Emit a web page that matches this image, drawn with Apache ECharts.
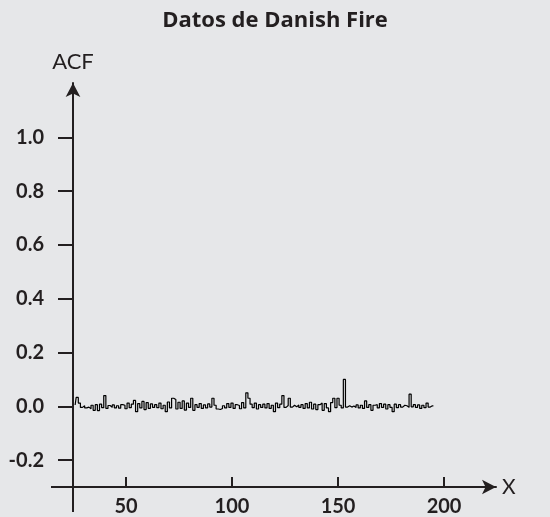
<!DOCTYPE html>
<html>
<head>
<meta charset="utf-8">
<script src="https://cdn.jsdelivr.net/npm/echarts@6/dist/echarts.min.js"></script>
<style>html,body{margin:0;padding:0;background:#e6e7e9;}#c{width:550px;height:517px;}</style>
</head>
<body>
<div id="c"></div>
<script>
var title = 'Datos de Danish Fire';
var firstLag = 26;
var acf = [
  0.005, 0.033, 0.012, -0.004, 0.002, -0.006, -0.003, -0.009, 0.004, -0.015,
  0.006, -0.016, 0.008, -0.005, 0.04, -0.008, 0.003, -0.004, 0.005, -0.006,
  0.002, -0.007, 0.006, 0.004, -0.009, 0.012, -0.005, 0.008, 0.022, -0.02,
  0.01, -0.006, 0.018, -0.012, 0.014, -0.008, 0.009, -0.004, 0.006, -0.005,
  0.012, -0.009, 0.004, -0.02, 0.016, -0.006, 0.03, 0.025, -0.01, 0.015,
  -0.008, 0.02, -0.014, 0.012, -0.004, 0.03, -0.015, 0.006, -0.004, 0.01,
  -0.008, 0.005, -0.006, 0.009, -0.003, 0.03, 0.004, -0.01, -0.012, -0.008,
  0.002, -0.006, 0.01, -0.004, 0.012, -0.008, 0.006, 0.003, -0.009, 0.014,
  -0.006, 0.05, 0.03, 0.008, -0.005, 0.012, -0.01, 0.006, -0.004, 0.008,
  -0.006, 0.01, -0.008, 0.004, -0.02, 0.012, -0.005, 0.008, 0.04, -0.004,
  0.003, 0.03, -0.003, 0.004, -0.002, 0.005, -0.004, 0.006, -0.008, 0.01,
  -0.006, 0.015, -0.01, 0.008, -0.012, 0.006, 0.012, -0.015, 0.01, -0.006,
  -0.02, 0.014, 0.03, -0.005, 0.03, 0.004, -0.006, 0.1, -0.003, 0.002,
  -0.003, 0.001, -0.004, 0.005, -0.006, 0.004, -0.008, 0.02, -0.004, 0.006,
  -0.015, 0.004, 0.006, -0.006, 0.01, -0.004, 0.008, -0.01, 0.006, -0.004,
  -0.02, 0.008, -0.005, 0.006, -0.003, 0.004, 0.002, -0.004, 0.045, -0.002,
  0.006, -0.004, 0.005, -0.008, 0.004, -0.005, 0.012, -0.003, 0.002, 0.001
];
var xTicks = [50, 100, 150, 200];
var yTicks = [-0.2, 0.0, 0.2, 0.4, 0.6, 0.8, 1.0];

var seriesData = acf.map(function (v, i) { return [firstLag + i, v]; });
var ink = '#231f20';
var chart = echarts.init(document.getElementById('c'), null, {renderer: 'canvas'});
chart.setOption({
  backgroundColor: '#e6e7e9',
  animation: false,
  title: {
    text: title, left: 'center', top: 5,
    textStyle: {fontFamily: 'Open Sans', fontWeight: 'bold', fontSize: 22, color: ink}
  },
  grid: {left: 73, right: 54, top: 83, bottom: 28},
  xAxis: {
    type: 'value', min: 25, max: 224.5,
    name: 'X', nameLocation: 'end', nameGap: 6,
    nameTextStyle: {fontFamily: 'Lato', fontSize: 21, color: ink, verticalAlign: 'middle'},
    axisLine: {show: true, onZero: false, symbol: ['none', 'arrow'], symbolSize: [11, 14], lineStyle: {color: ink, width: 2}},
    axisTick: {show: true, inside: true, length: 10, lineStyle: {color: ink, width: 2}, customValues: xTicks},
    axisLabel: {show: true, margin: 10, fontFamily: 'Lato', fontWeight: 'bold', fontSize: 20, color: ink, customValues: xTicks},
    splitLine: {show: false}
  },
  yAxis: {
    type: 'value', min: -0.3, max: 1.202,
    name: 'ACF', nameLocation: 'end', nameGap: 10,
    nameTextStyle: {fontFamily: 'Lato', fontSize: 22, color: ink, align: 'center'},
    axisLine: {show: true, onZero: false, symbol: ['none', 'arrow'], symbolSize: [11, 14], lineStyle: {color: ink, width: 2}},
    axisTick: {show: true, inside: false, length: 15, lineStyle: {color: ink, width: 2}, customValues: yTicks},
    axisLabel: {show: true, margin: 29, fontFamily: 'Lato', fontWeight: 'bold', fontSize: 20, color: ink,
      customValues: yTicks, formatter: function (v) { return v.toFixed(1); }},
    splitLine: {show: false}
  },
  series: [{
    type: 'line', data: seriesData, showSymbol: false, symbol: 'none', step: 'middle',
    lineStyle: {color: '#000', width: 1.2}
  }]
});
// axis extensions beyond the crossing point (decorative)
var origin = chart.convertToPixel({gridIndex: 0}, [25, -0.3]);
chart.setOption({
  graphic: [
    {type: 'line', shape: {x1: origin[0] - 22, y1: origin[1], x2: origin[0], y2: origin[1]}, style: {stroke: ink, lineWidth: 2}},
    {type: 'line', shape: {x1: origin[0], y1: origin[1], x2: origin[0], y2: origin[1] + 25}, style: {stroke: ink, lineWidth: 2}}
  ]
});
</script>
</body>
</html>
